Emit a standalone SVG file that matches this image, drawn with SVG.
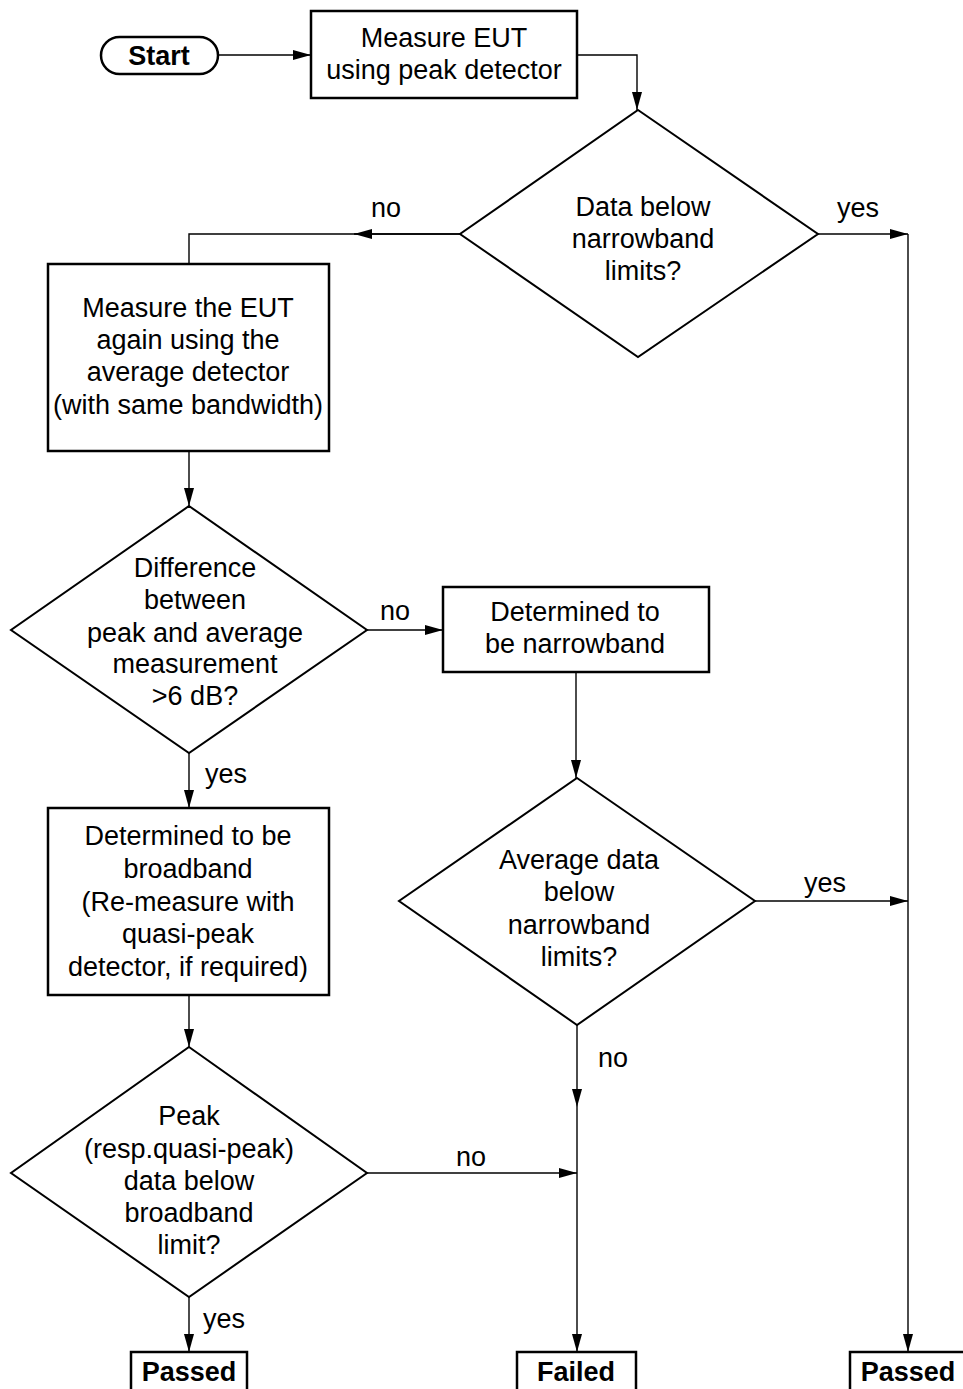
<svg xmlns="http://www.w3.org/2000/svg" width="963" height="1389" viewBox="0 0 963 1389">
<defs>
<marker id="arr" viewBox="0 0 18 10" refX="18" refY="5" markerWidth="18" markerHeight="10" markerUnits="userSpaceOnUse" orient="auto"><path d="M0,0 L18,5 L0,10 z" fill="#000"/></marker>
<style>
.box{fill:#fff;stroke:#000;stroke-width:2.5}
.dia{fill:#fff;stroke:#000;stroke-width:2}
.ln{fill:none;stroke:#000;stroke-width:1.4}
.ar{fill:none;stroke:#000;stroke-width:1.4;marker-end:url(#arr)}
text{font-family:"Liberation Sans",Arial,sans-serif;font-size:27px;fill:#000;text-anchor:middle}
.b{font-weight:bold}
.lbl{text-anchor:middle}
</style>
</defs>
<rect width="963" height="1389" fill="#fff"/>
<g id="connectors">
<path class="ar" d="M218,55 L311,55"/>
<path class="ar" d="M577,55 L637,55 L637,110"/>
<path class="ln" d="M460,234 L189,234 L189,264"/>
<path class="ar" d="M460,234 L354,234"/>
<path class="ar" d="M818,234 L908,234"/>
<path class="ar" d="M908,234 L908,1352"/>
<path class="ar" d="M189,451 L189,506"/>
<path class="ar" d="M367,630 L443,630"/>
<path class="ar" d="M576,672 L576,778"/>
<path class="ar" d="M755,901 L908,901"/>
<path class="ar" d="M577,1025 L577,1107"/>
<path class="ar" d="M577,1107 L577,1352"/>
<path class="ar" d="M189,753 L189,808"/>
<path class="ar" d="M189,995 L189,1047"/>
<path class="ar" d="M367,1173 L577,1173"/>
<path class="ar" d="M189,1297 L189,1352"/>
<text x="386" y="217">no</text>
<text x="858" y="217">yes</text>
<text x="395" y="620">no</text>
<text x="226" y="783">yes</text>
<text x="825" y="892">yes</text>
<text x="613" y="1067">no</text>
<text x="471" y="1166">no</text>
<text x="224" y="1328">yes</text>
</g>
<g id="start">
<rect class="box" x="101" y="37" width="117" height="37" rx="18.5" ry="18.5"/>
<text class="b" x="159" y="65">Start</text>
</g>
<g id="measure-peak">
<rect class="box" x="311" y="11" width="266" height="87"/>
<text x="444" y="47">Measure EUT</text>
<text x="444" y="79">using peak detector</text>
</g>
<g id="d-narrowband">
<polygon class="dia" points="638,110 818,234 638,357 460,234"/>
<text x="643" y="216">Data below</text>
<text x="643" y="248">narrowband</text>
<text x="643" y="280">limits?</text>
</g>
<g id="measure-average">
<rect class="box" x="48" y="264" width="281" height="187"/>
<text x="188" y="317">Measure the EUT</text>
<text x="188" y="349">again using the</text>
<text x="188" y="381">average detector</text>
<text x="188" y="414">(with same bandwidth)</text>
</g>
<g id="d-difference">
<polygon class="dia" points="189,506 367,630 189,753 11,630"/>
<text x="195" y="577">Difference</text>
<text x="195" y="609">between</text>
<text x="195" y="642">peak and average</text>
<text x="195" y="673">measurement</text>
<text x="195" y="705">&gt;6 dB?</text>
</g>
<g id="narrowband">
<rect class="box" x="443" y="587" width="266" height="85"/>
<text x="575" y="621">Determined to</text>
<text x="575" y="653">be narrowband</text>
</g>
<g id="d-average">
<polygon class="dia" points="577,778 755,901 577,1025 399,901"/>
<text x="579" y="869">Average data</text>
<text x="579" y="901">below</text>
<text x="579" y="934">narrowband</text>
<text x="579" y="966">limits?</text>
</g>
<g id="broadband">
<rect class="box" x="48" y="808" width="281" height="187"/>
<text x="188" y="845">Determined to be</text>
<text x="188" y="878">broadband</text>
<text x="188" y="911">(Re-measure with</text>
<text x="188" y="943">quasi-peak</text>
<text x="188" y="976">detector, if required)</text>
</g>
<g id="d-peak">
<polygon class="dia" points="189,1047 367,1173 189,1297 11,1173"/>
<text x="189" y="1125">Peak</text>
<text x="189" y="1158">(resp.quasi-peak)</text>
<text x="189" y="1190">data below</text>
<text x="189" y="1222">broadband</text>
<text x="189" y="1254">limit?</text>
</g>
<g id="passed-left">
<rect class="box" x="131" y="1352" width="116" height="50"/>
<text class="b" x="189" y="1381">Passed</text>
</g>
<g id="failed">
<rect class="box" x="517" y="1352" width="119" height="50"/>
<text class="b" x="576" y="1381">Failed</text>
</g>
<g id="passed-right">
<rect class="box" x="850" y="1352" width="117" height="50"/>
<text class="b" x="908" y="1381">Passed</text>
</g>
</svg>
